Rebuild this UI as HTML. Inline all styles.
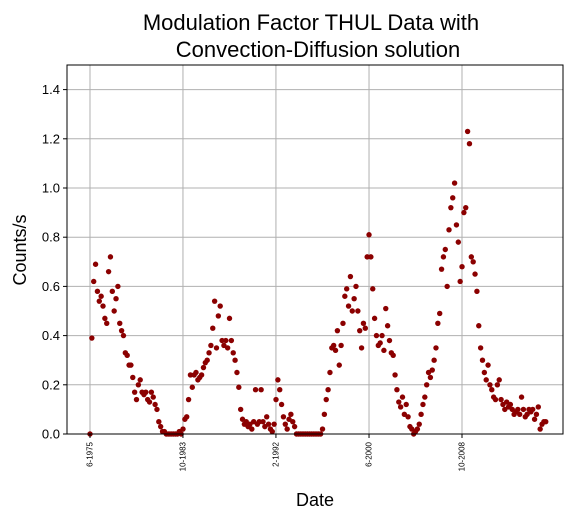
<!DOCTYPE html>
<html><head><meta charset="utf-8"><style>
body{margin:0;background:#fff;}
svg{display:block;font-family:"Liberation Sans","DejaVu Sans",sans-serif;}
</style></head><body>
<svg id="chart" width="573" height="520">
<text x="311" y="30" font-size="22" text-anchor="middle">Modulation Factor THUL Data with</text>
<text x="318" y="57" font-size="22" text-anchor="middle">Convection-Diffusion solution</text>
<text x="315" y="506" font-size="18" text-anchor="middle">Date</text>
<text transform="translate(26,250) rotate(-90)" font-size="18" text-anchor="middle">Counts/s</text>
<g id="grid"></g><g id="marks"></g><g id="axes"></g>
</svg>
<script>
const xTickYears=[1975.42,1983.75,1992.08,2000.42,2008.75];
const xTickLabels=["6-1975","10-1983","2-1992","6-2000","10-2008"];
const yTicks=[0,0.2,0.4,0.6,0.8,1.0,1.2,1.4];
const startYear=1975.42, stepYear=1/6;
const counts=[
0.0,0.39,0.62,0.69,0.58,0.54, 0.56,0.52,0.47,0.45,0.66,0.72, 0.58,0.5,0.55,0.6,0.45,0.42,
0.4,0.33,0.32,0.28,0.28,0.23, 0.17,0.14,0.2,0.22,0.17,0.16, 0.17,0.14,0.13,0.17,0.15,0.12,
0.1,0.05,0.03,0.01,0.01,0.0, 0,0,0,0,0,0, 0.01,0.0,0.02,0.06,0.07,0.14,
0.24,0.19,0.24,0.25,0.22,0.23, 0.24,0.27,0.29,0.3,0.33,0.36, 0.43,0.54,0.35,0.48,0.52,0.38,
0.36,0.38,0.35,0.47,0.38,0.33, 0.3,0.25,0.19,0.1,0.06,0.04, 0.05,0.03,0.04,0.02,0.05,0.18,
0.04,0.05,0.18,0.05,0.03,0.07, 0.04,0.02,0.01,0.04,0.14,0.22, 0.18,0.12,0.07,0.04,0.02,0.06,
0.08,0.05,0.03,0.0,0.0,0.0, 0,0,0,0,0,0, 0,0,0,0,0,0.02,
0.08,0.14,0.18,0.25,0.35,0.36, 0.34,0.42,0.28,0.36,0.45,0.56, 0.59,0.52,0.64,0.5,0.55,0.6,
0.5,0.42,0.35,0.45,0.43,0.72, 0.81,0.72,0.59,0.47,0.4,0.36, 0.37,0.4,0.34,0.51,0.44,0.38,
0.33,0.32,0.24,0.18,0.13,0.11, 0.15,0.08,0.12,0.07,0.03,0.02, 0.0,0.01,0.02,0.04,0.08,0.12,
0.15,0.2,0.25,0.23,0.26,0.3, 0.35,0.45,0.49,0.67,0.72,0.75, 0.6,0.83,0.92,0.96,1.02,0.85,
0.78,0.62,0.68,0.9,0.92,1.23, 1.18,0.72,0.7,0.65,0.58,0.44, 0.35,0.3,0.25,0.22,0.28,0.2,
0.18,0.15,0.14,0.2,0.22,0.14, 0.12,0.1,0.13,0.11,0.12,0.1, 0.08,0.09,0.1,0.08,0.15,0.1,
0.07,0.08,0.1,0.09,0.1,0.06, 0.08,0.11,0.02,0.04,0.05,0.05
];
const L=67,R=563,T=65,B=434, xMin=1973.36,xMax=2017.8,yMin=0,yMax=1.5;
const xs=v=>L+(v-xMin)/(xMax-xMin)*(R-L);
const ys=v=>B-(v-yMin)/(yMax-yMin)*(B-T);
const NS="http://www.w3.org/2000/svg";
function mk(tag,attrs,parent){const e=document.createElementNS(NS,tag);for(const k in attrs)e.setAttribute(k,attrs[k]);parent.appendChild(e);return e;}
const grid=document.getElementById('grid'),marks=document.getElementById('marks'),axes=document.getElementById('axes');
xTickYears.forEach((yr,i)=>{
  const x=xs(yr);
  const g=mk('line',{x1:x,x2:x,y1:T,y2:B,stroke:'#b0b0b0','stroke-width':1},grid);
  
  
  mk('line',{x1:x,x2:x,y1:B,y2:B+4,stroke:'#000'},axes);
  const t=mk('text',{transform:`translate(${x+2.5},${B+8}) rotate(-90)`,'font-size':8,'text-anchor':'end'},axes);
  t.textContent=xTickLabels[i];
  
  
});
yTicks.forEach(v=>{
  const y=ys(v);
  const g=mk('line',{x1:L,x2:R,y1:y,y2:y,stroke:'#b0b0b0','stroke-width':1},grid);
  
  
  mk('line',{x1:L-4,x2:L,y1:y,y2:y,stroke:'#000'},axes);
  const t=mk('text',{x:L-7,y:y+4.5,'font-size':13,'text-anchor':'end'},axes);
  t.textContent=v.toFixed(1);
  
  
});
counts.forEach((c,i)=>{
  const yr=startYear+i*stepYear;
  const d=mk('circle',{cx:xs(yr),cy:ys(c),r:2.7,fill:'#8b0000'},marks);
  
  
});
const fr=mk('rect',{x:L,y:T,width:R-L,height:B-T,fill:'none',stroke:'#000','stroke-width':1},axes);


</script>
</body></html>
